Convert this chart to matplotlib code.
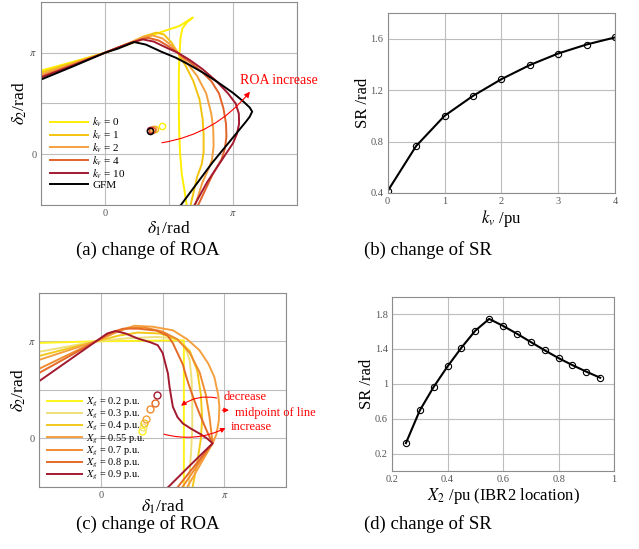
import numpy as np
import matplotlib
matplotlib.use("Agg")
import matplotlib.pyplot as plt

plt.rcParams["font.family"] = ["Liberation Serif", "DejaVu Serif"]
plt.rcParams["mathtext.fontset"] = "stix"

# ---- data (a): ROA boundaries vs k_v, coordinates in units of pi ----
roa_kv0 = [(-0.51, 0.82), (-0.25, 0.91), (0.0, 1.0), (0.2, 1.09), (0.424, 1.198), (0.581, 1.263),
           (0.686, 1.347), (0.64, 1.30), (0.605, 1.24), (0.59, 1.15), (0.582, 1.0), (0.577, 0.8),
           (0.576, 0.6), (0.577, 0.4), (0.58, 0.2), (0.587, 0.0), (0.60, -0.2), (0.62, -0.35), (0.64, -0.52)]
roa_kv1 = [(-0.51, 0.80), (-0.25, 0.90), (0.0, 1.0), (0.1, 1.05), (0.2, 1.10), (0.3, 1.16), (0.40, 1.198),
           (0.46, 1.18), (0.52, 1.10), (0.568, 1.0), (0.63, 0.87), (0.69, 0.72), (0.738, 0.54),
           (0.762, 0.35), (0.77, 0.2), (0.77, 0.02), (0.755, -0.10), (0.72, -0.22), (0.665, -0.52)]
roa_kv2 = [(-0.51, 0.78), (-0.25, 0.89), (0.0, 1.0), (0.1, 1.05), (0.2, 1.10), (0.30, 1.155), (0.372, 1.171),
           (0.45, 1.14), (0.52, 1.07), (0.568, 1.0), (0.64, 0.90), (0.72, 0.77), (0.79, 0.60), (0.83, 0.40),
           (0.845, 0.25), (0.848, 0.08), (0.835, -0.06), (0.81, -0.14), (0.76, -0.28), (0.70, -0.52)]
roa_kv4 = [(-0.51, 0.76), (-0.25, 0.88), (0.0, 1.0), (0.1, 1.05), (0.2, 1.10), (0.333, 1.148), (0.42, 1.12),
           (0.50, 1.06), (0.568, 1.0), (0.65, 0.92), (0.75, 0.82), (0.83, 0.72), (0.89, 0.60), (0.925, 0.45),
           (0.945, 0.30), (0.948, 0.17), (0.935, 0.05), (0.91, -0.05), (0.84, -0.20), (0.72, -0.52)]
roa_kv10 = [(-0.51, 0.75), (-0.25, 0.875), (0.0, 1.0), (0.1, 1.05), (0.2, 1.095), (0.293, 1.132), (0.38, 1.11),
            (0.48, 1.05), (0.568, 1.0), (0.66, 0.93), (0.76, 0.84), (0.87, 0.72), (0.96, 0.60), (1.02, 0.50),
            (1.045, 0.40), (1.047, 0.30), (1.03, 0.20), (1.0, 0.11), (0.90, -0.08), (0.80, -0.27), (0.69, -0.52)]
roa_gfm = [(-0.51, 0.73), (-0.25, 0.865), (0.0, 1.0), (0.1, 1.04), (0.228, 1.105), (0.32, 1.08), (0.44, 1.01),
           (0.555, 0.95), (0.66, 0.88), (0.77, 0.80), (0.88, 0.71), (1.0, 0.604), (1.08, 0.52), (1.13, 0.46),
           (1.149, 0.42), (1.13, 0.37), (1.10, 0.32), (0.84, -0.08), (0.581, -0.52)]
eq_kv = [(0.442, 0.283), (0.39, 0.25), (0.375, 0.245), (0.365, 0.24), (0.355, 0.235), (0.35, 0.232)]
kv_labels = [r"$k_v$ = 0", r"$k_v$ = 1", r"$k_v$ = 2", r"$k_v$ = 4", r"$k_v$ = 10", "GFM"]
kv_colors = ["#FFEE00", "#F2C40F", "#F5A040", "#E2632A", "#A3192F", "black"]

# ---- data (b): SR vs k_v ----
kv = [0, 0.5, 1, 1.5, 2, 2.5, 3, 3.5, 4]
sr_kv = [0.415, 0.765, 1.0, 1.155, 1.285, 1.395, 1.485, 1.555, 1.61]

# ---- data (c): ROA boundaries vs X_g, units of pi ----
roa_xg02 = [(-0.51, 0.983), (-0.04, 1.0), (0.672, 1.01), (0.672, -0.52)]
roa_xg03 = [(-0.51, 0.89), (-0.04, 1.0), (0.2, 1.03), (0.45, 1.045), (0.60, 1.03), (0.68, 0.95), (0.72, 0.80),
            (0.735, 0.6), (0.74, 0.35), (0.74, 0.1), (0.73, -0.15), (0.71, -0.52)]
roa_xg04 = [(-0.51, 0.846), (-0.04, 1.0), (0.15, 1.06), (0.30, 1.09), (0.48, 1.08), (0.62, 1.02), (0.72, 0.90),
            (0.78, 0.70), (0.81, 0.45), (0.82, 0.2), (0.81, 0.0), (0.78, -0.25), (0.74, -0.52)]
roa_xg055 = [(-0.51, 0.805), (-0.04, 1.0), (0.12, 1.09), (0.27, 1.16), (0.42, 1.15), (0.583, 1.113), (0.70, 1.02),
             (0.798, 0.908), (0.87, 0.77), (0.919, 0.633), (0.95, 0.45), (0.96, 0.325), (0.955, 0.18),
             (0.935, 0.04), (0.905, -0.05), (0.80, -0.28), (0.69, -0.52)]
roa_xg07 = [(-0.51, 0.712), (-0.04, 1.0), (0.10, 1.09), (0.22, 1.14), (0.36, 1.14), (0.50, 1.10), (0.62, 1.02),
            (0.72, 0.88), (0.80, 0.68), (0.85, 0.45), (0.88, 0.22), (0.905, -0.05), (0.78, -0.28), (0.65, -0.52)]
roa_xg08 = [(-0.51, 0.668), (-0.04, 1.0), (0.08, 1.09), (0.18, 1.13), (0.30, 1.13), (0.45, 1.11), (0.54, 1.06),
            (0.583, 0.98), (0.62, 0.88), (0.664, 0.76), (0.69, 0.64), (0.718, 0.53), (0.76, 0.38),
            (0.798, 0.257), (0.85, 0.10), (0.892, -0.017), (0.905, -0.05), (0.76, -0.28), (0.61, -0.52)]
roa_xg09 = [(-0.51, 0.582), (-0.04, 1.0), (0.05, 1.08), (0.12, 1.106), (0.20, 1.08), (0.30, 1.028), (0.40, 0.99),
            (0.46, 0.96), (0.50, 0.88), (0.52, 0.78), (0.543, 0.668), (0.556, 0.53), (0.57, 0.42),
            (0.583, 0.325), (0.62, 0.22), (0.664, 0.154), (0.73, 0.10), (0.798, 0.051), (0.86, 0.0),
            (0.905, -0.05), (0.72, -0.28), (0.53, -0.52)]
eq_xg = [(0.336, 0.079), (0.341, 0.12), (0.352, 0.161), (0.363, 0.20), (0.40, 0.30), (0.438, 0.366), (0.454, 0.452)]
xg_labels = [r"$X_g$ = 0.2 p.u.", r"$X_g$ = 0.3 p.u.", r"$X_g$ = 0.4 p.u.", r"$X_g$ = 0.55 p.u.",
             r"$X_g$ = 0.7 p.u.", r"$X_g$ = 0.8 p.u.", r"$X_g$ = 0.9 p.u."]
xg_colors = ["#FFF31A", "#EEE07A", "#F2C81A", "#F5A040", "#F08C30", "#E46A28", "#A3192F"]

# ---- data (d): SR vs X_2 ----
x2 = [0.25, 0.3, 0.35, 0.4, 0.45, 0.5, 0.55, 0.6, 0.65, 0.7, 0.75, 0.8, 0.85, 0.9, 0.95]
sr_x2 = [0.32, 0.695, 0.965, 1.20, 1.415, 1.61, 1.745, 1.665, 1.575, 1.48, 1.385, 1.295, 1.215, 1.14, 1.07]

fig = plt.figure(figsize=(6.39, 5.49), dpi=100)
ax_a = fig.add_axes([0.064, 0.6266, 0.401, 0.3698])
ax_b = fig.add_axes([0.6067, 0.6485, 0.3557, 0.3278])
ax_c = fig.add_axes([0.0615, 0.1129, 0.3861, 0.3539])
ax_d = fig.add_axes([0.6135, 0.142, 0.3475, 0.3176])

tick_col = "#555555"


def style_axes(ax):
    for s in ax.spines.values():
        s.set_color("#8c8c8c")
        s.set_linewidth(0.8)
    ax.grid(True, color="#bdbdbd", lw=0.8)
    ax.set_axisbelow(True)
    ax.tick_params(length=0, labelsize=7.5, labelcolor=tick_col, pad=3)


def style_roa(ax):
    style_axes(ax)
    ax.set_xlim(-0.5, 1.5)
    ax.set_ylim(-0.5, 1.5)
    ax.set_xticks([-0.5, 0, 0.5, 1, 1.5])
    ax.set_xticklabels(["", "0", "", r"$\pi$", ""])
    ax.set_yticks([-0.5, 0, 0.5, 1, 1.5])
    ax.set_yticklabels(["", "0", "", r"$\pi$", ""])
    ax.set_ylabel(r"$\delta_2$/rad", fontsize=12.5, labelpad=0)


# (a)
style_roa(ax_a)
ax_a.set_xlabel(r"$\delta_1$/rad", fontsize=12.5, labelpad=1)
for curve, col, lab in zip([roa_kv0, roa_kv1, roa_kv2, roa_kv4, roa_kv10, roa_gfm], kv_colors, kv_labels):
    xs, ys = zip(*curve)
    ax_a.plot(xs, ys, color=col, lw=1.4, label=lab)
for (ex, ey), col in zip(eq_kv, kv_colors):
    ax_a.plot(ex, ey, "o", mfc="none", mec=col, ms=4.5, mew=1.0)
ax_a.legend(loc="upper left", bbox_to_anchor=(0.035, 0.44), frameon=False, fontsize=8,
            handlelength=3.4, handletextpad=0.4, labelspacing=-0.06, borderpad=0, borderaxespad=0)
ax_a.annotate("", xy=(1.145, 0.637), xytext=(0.423, 0.109),
              arrowprops=dict(arrowstyle="-|>", color="red", lw=0.8, mutation_scale=8,
                              connectionstyle="arc3,rad=0.2"), annotation_clip=False)
ax_a.text(1.053, 0.726, "ROA increase", color="red", fontsize=10, va="center", ha="left", clip_on=False)

# (b)
style_axes(ax_b)
ax_b.plot(kv, sr_kv, "-o", color="black", lw=1.5, mfc="none", mec="black", ms=4.5, mew=0.8)
ax_b.set_xlim(0, 4)
ax_b.set_ylim(0.4, 1.8)
ax_b.set_xticks([0, 1, 2, 3, 4])
ax_b.set_xticklabels(["0", "1", "2", "3", "4"])
ax_b.set_yticks([0.4, 0.8, 1.2, 1.6])
ax_b.set_yticklabels(["0.4", "0.8", "1.2", "1.6"])
ax_b.set_xlabel(r"$k_v$ /pu", fontsize=12, labelpad=1)
ax_b.set_ylabel("SR /rad", fontsize=12, labelpad=0)

# (c)
style_roa(ax_c)
ax_c.set_xlabel(r"$\delta_1$/rad", fontsize=12.5, labelpad=-2)
for curve, col, lab in zip([roa_xg02, roa_xg03, roa_xg04, roa_xg055, roa_xg07, roa_xg08, roa_xg09],
                           xg_colors, xg_labels):
    xs, ys = zip(*curve)
    ax_c.plot(xs, ys, color=col, lw=1.4, label=lab)
for (ex, ey), col in zip(eq_xg, xg_colors):
    ax_c.plot(ex, ey, "o", mfc="none", mec=col, ms=5, mew=1.0)
ax_c.legend(loc="upper left", bbox_to_anchor=(0.03, 0.47), frameon=False, fontsize=7.5,
            handlelength=3.4, handletextpad=0.4, labelspacing=-0.08, borderpad=0, borderaxespad=0)
ax_c.annotate("", xy=(0.631, 0.319), xytext=(0.96, 0.41),
              arrowprops=dict(arrowstyle="-|>", color="red", lw=0.8, mutation_scale=7,
                              connectionstyle="arc3,rad=0.25"), annotation_clip=False)
ax_c.annotate("", xy=(1.06, 0.291), xytext=(0.96, 0.291),
              arrowprops=dict(arrowstyle="-|>", color="red", lw=0.8, mutation_scale=7),
              annotation_clip=False)
ax_c.annotate("", xy=(1.03, 0.12), xytext=(0.489, 0.051),
              arrowprops=dict(arrowstyle="-|>", color="red", lw=0.8, mutation_scale=7,
                              connectionstyle="arc3,rad=0.2"), annotation_clip=False)
ax_c.text(0.996, 0.428, "decrease", color="red", fontsize=9, va="center", clip_on=False)
ax_c.text(1.089, 0.263, "midpoint of line", color="red", fontsize=9, va="center", clip_on=False)
ax_c.text(1.048, 0.113, "increase", color="red", fontsize=9, va="center", clip_on=False)

# (d)
style_axes(ax_d)
ax_d.plot(x2, sr_x2, "-o", color="black", lw=1.5, mfc="none", mec="black", ms=4.5, mew=0.8)
ax_d.set_xlim(0.2, 1)
ax_d.set_ylim(0, 2)
ax_d.set_xticks([0.2, 0.4, 0.6, 0.8, 1])
ax_d.set_xticklabels(["0.2", "0.4", "0.6", "0.8", "1"])
ax_d.set_yticks([0.2, 0.6, 1.0, 1.4, 1.8])
ax_d.set_yticklabels(["0.2", "0.6", "1", "1.4", "1.8"])
ax_d.set_xlabel(r"$X_2$ /pu (IBR2 location)", fontsize=12, labelpad=1)
ax_d.set_ylabel("SR /rad", fontsize=12, labelpad=0)

# subfigure captions
fig.text(147.5 / 639, 1 - 250 / 549, "(a) change of ROA", fontsize=13.5, ha="center", va="center")
fig.text(428 / 639, 1 - 250 / 549, "(b) change of SR", fontsize=13.5, ha="center", va="center")
fig.text(147.5 / 639, 1 - 524 / 549, "(c) change of ROA", fontsize=13.5, ha="center", va="center")
fig.text(428 / 639, 1 - 524 / 549, "(d) change of SR", fontsize=13.5, ha="center", va="center")

fig.savefig("out.png", dpi=100)
